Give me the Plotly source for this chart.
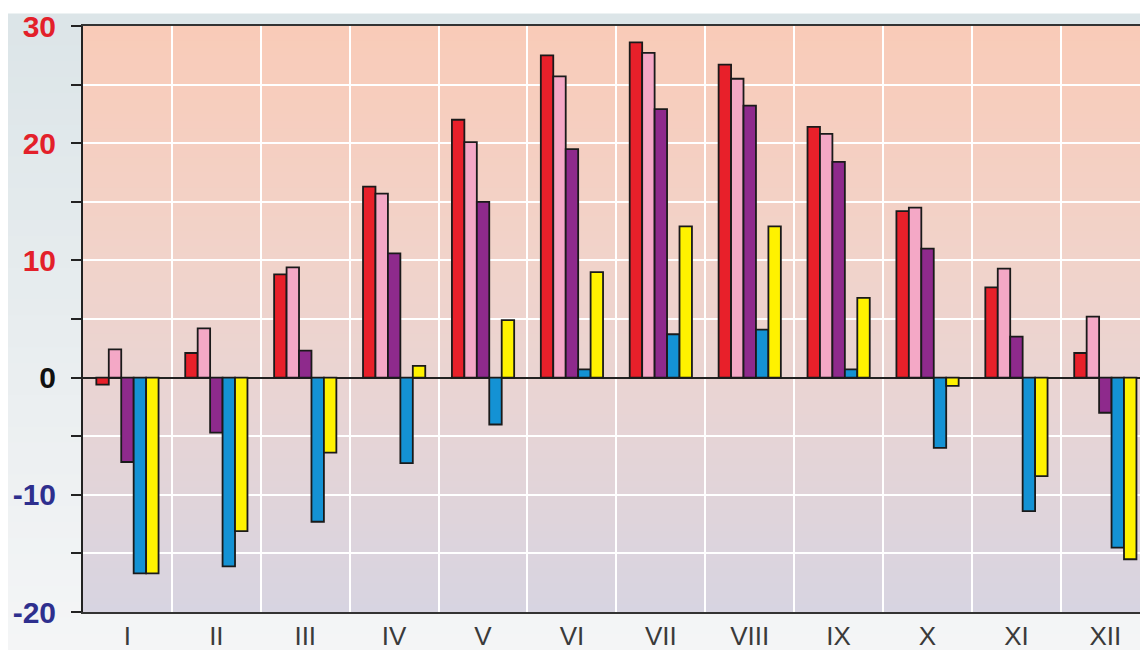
import plotly.graph_objects as go

months = ["I", "II", "III", "IV", "V", "VI", "VII", "VIII", "IX", "X", "XI", "XII"]
red_vals = [-0.6, 2.1, 8.8, 16.3, 22.0, 27.5, 28.6, 26.7, 21.4, 14.2, 7.7, 2.1]
pink_vals = [2.4, 4.2, 9.4, 15.7, 20.1, 25.7, 27.7, 25.5, 20.8, 14.5, 9.3, 5.2]
purple_vals = [-7.2, -4.7, 2.3, 10.6, 15.0, 19.5, 22.9, 23.2, 18.4, 11.0, 3.5, -3.0]
blue_vals = [-16.7, -16.1, -12.3, -7.3, -4.0, 0.7, 3.7, 4.1, 0.7, -6.0, -11.4, -14.5]
yellow_vals = [-16.7, -13.1, -6.4, 1.0, 4.9, 9.0, 12.9, 12.9, 6.8, -0.7, -8.4, -15.5]

y_tickvals = [-20, -15, -10, -5, 0, 5, 10, 15, 20, 25, 30]
y_ticklabels = {30: "30", 20: "20", 10: "10", 0: "0", -10: "-10", -20: "-20"}

series = [
    (red_vals, "#e8202a"),
    (pink_vals, "#f4a8c6"),
    (purple_vals, "#8e2a8c"),
    (blue_vals, "#1492d4"),
    (yellow_vals, "#fff200"),
]

fig = go.Figure()
for vals, col in series:
    fig.add_trace(go.Bar(
        x=months, y=vals, marker=dict(color=col, line=dict(color="#1a1a1a", width=1.8)),
        showlegend=False,
    ))

def label_color(v):
    if v > 0:
        return "#e3202a"
    if v < 0:
        return "#2e2f8e"
    return "#111111"

ticktext = []
for v in y_tickvals:
    if v in y_ticklabels:
        ticktext.append("<span style='color:%s'>%s</span>" % (label_color(v), y_ticklabels[v]))
    else:
        ticktext.append("")

def lerp(c1, c2, t):
    return tuple(round(a + (b - a) * t) for a, b in zip(c1, c2))

def hexc(c):
    return "#%02x%02x%02x" % c

# page body has an 8px margin, so the figure is drawn 8px smaller
W, H = 1140.0, 642.0
top_m, bot_m, left_m = 18.0, 38.0, 75.0
ph = H - top_m - bot_m
def py(px):
    return (H - bot_m - px) / ph

shapes = []
outer_top = (220, 229, 232)
outer_bot = (244, 245, 246)
n_out = 40
y0px, y1px = 6.0, H
for i in range(n_out):
    a = y0px + (y1px - y0px) * i / n_out
    b = y0px + (y1px - y0px) * (i + 1) / n_out
    c = lerp(outer_top, outer_bot, i / (n_out - 1))
    shapes.append(dict(type="rect", xref="paper", yref="paper", x0=-0.2, x1=1.1,
                       y0=py(b) - 0.001, y1=py(a) + 0.001, fillcolor=hexc(c),
                       line=dict(width=0), layer="below"))

stops = [(0.0, (215, 212, 225)), (0.35, (232, 212, 212)), (0.6, (241, 211, 202)), (1.0, (249, 203, 184))]
def grad(t):
    for (t0, c0), (t1, c1) in zip(stops[:-1], stops[1:]):
        if t0 <= t <= t1:
            return lerp(c0, c1, (t - t0) / (t1 - t0))
    return stops[-1][1]

n_in = 80
for i in range(n_in):
    a = i / n_in
    b = (i + 1) / n_in
    c = grad((a + b) / 2)
    shapes.append(dict(type="rect", xref="paper", yref="paper", x0=0, x1=1.0,
                       y0=a, y1=min(1.0, b + 0.002), fillcolor=hexc(c),
                       line=dict(width=0), layer="below"))

fig.update_layout(
    width=int(W), height=int(H),
    margin=dict(l=left_m, r=0, t=top_m, b=bot_m, autoexpand=False),
    paper_bgcolor="white",
    plot_bgcolor="rgba(0,0,0,0)",
    barmode="group",
    bargap=0.30,
    bargroupgap=0,
    shapes=shapes,
    font=dict(family="Arial, Liberation Sans, sans-serif"),
)

fig.update_xaxes(
    type="category",
    range=[-0.5, 11.48],
    automargin=False,
    tickson="boundaries",
    showgrid=True, gridcolor="white", gridwidth=2,
    ticks="outside", ticklen=3, tickcolor="rgba(0,0,0,0)",
    tickfont=dict(size=26, color="#3a3a3a"),
    showline=True, linecolor="#333333", linewidth=2, mirror=True,
    zeroline=False,
)

fig.update_yaxes(
    range=[-20, 30],
    automargin=False,
    tickmode="array", tickvals=y_tickvals, ticktext=ticktext,
    tickfont=dict(size=30, weight="bold"),
    ticks="outside", ticklen=10, tickcolor="#222222", tickwidth=2,
    ticklabelstandoff=9,
    showgrid=True, gridcolor="white", gridwidth=2,
    showline=True, linecolor="#222222", linewidth=2,
    zeroline=True, zerolinecolor="#222222", zerolinewidth=1.5,
)

fig.write_html("out.html")
